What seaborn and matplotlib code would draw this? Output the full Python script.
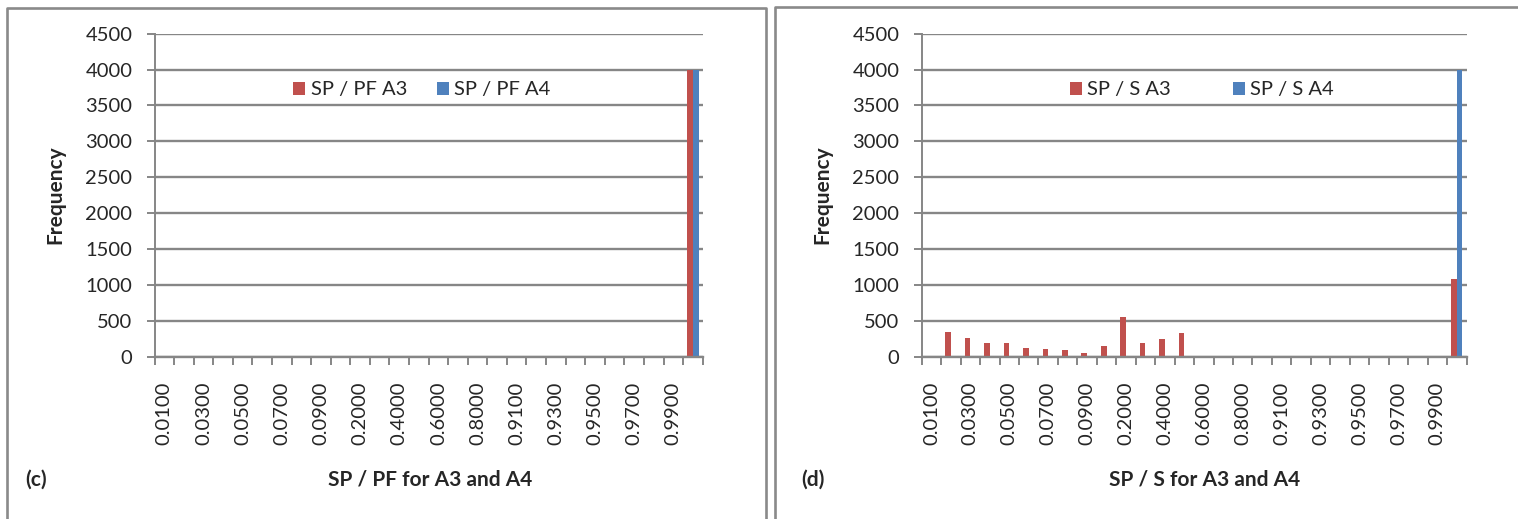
import matplotlib
matplotlib.use("Agg")
import matplotlib.pyplot as plt
from matplotlib.lines import Line2D
import pandas as pd
import seaborn as sns

# Histogram bins (upper bounds) shared by both panels
bins = [0.01, 0.02, 0.03, 0.04, 0.05, 0.06, 0.07, 0.08, 0.09,
        0.1, 0.2, 0.3, 0.4, 0.5, 0.6, 0.7, 0.8, 0.9,
        0.91, 0.92, 0.93, 0.94, 0.95, 0.96, 0.97, 0.98, 0.99, 1.0]
bin_labels = ["0.0100", "0.0200", "0.0300", "0.0400", "0.0500", "0.0600", "0.0700",
              "0.0800", "0.0900", "0.1000", "0.2000", "0.3000", "0.4000", "0.5000",
              "0.6000", "0.7000", "0.8000", "0.9000", "0.9100", "0.9200", "0.9300",
              "0.9400", "0.9500", "0.9600", "0.9700", "0.9800", "0.9900", "1.0000"]

# Panel (c): SP / PF frequencies
sp_pf_a3 = [0, 0, 0, 0, 0, 0, 0, 0, 0, 0, 0, 0, 0, 0,
            0, 0, 0, 0, 0, 0, 0, 0, 0, 0, 0, 0, 0, 4000]
sp_pf_a4 = [0, 0, 0, 0, 0, 0, 0, 0, 0, 0, 0, 0, 0, 0,
            0, 0, 0, 0, 0, 0, 0, 0, 0, 0, 0, 0, 0, 4000]

# Panel (d): SP / S frequencies
sp_s_a3 = [5, 342, 262, 187, 192, 122, 103, 94, 52, 146, 552, 196, 243, 332,
           2, 6, 0, 0, 0, 0, 0, 0, 0, 0, 0, 0, 0, 1088]
sp_s_a4 = [0, 0, 0, 0, 0, 0, 0, 0, 0, 0, 0, 0, 0, 0,
           0, 0, 0, 0, 0, 0, 0, 0, 0, 0, 0, 0, 0, 4000]

y_ticks = [0, 500, 1000, 1500, 2000, 2500, 3000, 3500, 4000, 4500]

RED = "#C0504D"
BLUE = "#4F81BD"
GRID = "#868686"
FRAME = "#8A8A8A"

sns.set_style("white")
plt.rcParams["font.family"] = ["Lato", "DejaVu Sans"]

W, H = 1518, 519
fig = plt.figure(figsize=(W / 100, H / 100), dpi=100)


def px_rect(x0, x1, y_top, y_bot):
    return [x0 / W, 1 - y_bot / H, (x1 - x0) / W, (y_bot - y_top) / H]


def draw_panel(ax, a3, a4, name3, name4, legend_center, colspacing):
    df = pd.DataFrame({
        "bin": bin_labels * 2,
        "freq": a3 + a4,
        "series": [name3] * len(a3) + [name4] * len(a4),
    })
    sns.barplot(data=df, x="bin", y="freq", hue="series", order=bin_labels,
                hue_order=[name3, name4], palette=[RED, BLUE], saturation=1,
                width=0.58, errorbar=None, linewidth=0, ax=ax)
    ax.set_xlim(-0.5, len(bins) - 0.5)
    ax.set_ylim(0, 4500)
    ax.set_yticks(y_ticks)
    ax.set_yticklabels([str(v) for v in y_ticks], fontsize=14.5)
    ax.yaxis.grid(True, color=GRID, linewidth=1.7)
    ax.set_axisbelow(True)
    ax.tick_params(axis="y", length=6, width=1.4, color=GRID, left=True, pad=10)

    # Labels on every other bin, tick marks on bin boundaries
    ax.set_xticks(list(range(0, len(bins), 2)))
    ax.set_xticklabels(bin_labels[::2], rotation=90, fontsize=14.5)
    ax.tick_params(axis="x", which="major", length=0, pad=18)
    ax.set_xticks([i - 0.5 for i in range(len(bins) + 1)], minor=True)
    ax.tick_params(axis="x", which="minor", length=6, width=1.4, color=GRID,
                   bottom=True)
    ax.set_xlabel("")
    ax.set_ylabel("")

    for side in ["top", "right"]:
        ax.spines[side].set_visible(False)
    ax.spines["left"].set_color(GRID)
    ax.spines["left"].set_linewidth(1.4)
    ax.spines["bottom"].set_color(GRID)
    ax.spines["bottom"].set_linewidth(1.7)

    handles, labels = ax.get_legend_handles_labels()
    ax.legend(handles, labels, loc="center",
              bbox_to_anchor=(legend_center[0] / W, 1 - legend_center[1] / H),
              bbox_transform=fig.transFigure, ncol=2, frameon=False,
              fontsize=14.5, handlelength=0.6, handleheight=0.65,
              handletextpad=0.25, columnspacing=colspacing)


ax_c = fig.add_axes(px_rect(154.5, 702.7, 33.7, 356.7))
draw_panel(ax_c, sp_pf_a3, sp_pf_a4, "SP / PF A3", "SP / PF A4", (422, 90), 1.5)

ax_d = fig.add_axes(px_rect(921.7, 1466.5, 33.7, 356.7))
draw_panel(ax_d, sp_s_a3, sp_s_a4, "SP / S A3", "SP / S A4", (1202, 90), 3.1)

# Axis titles and panel tags
for x_freq, x_tag, tag, x_title, title in [
        (55, 36, "(c)", 430, "SP / PF for A3 and A4"),
        (822, 813, "(d)", 1205, "SP / S for A3 and A4")]:
    fig.text(x_freq / W, 1 - 195 / H, "Frequency", rotation=90, ha="center",
             va="center", fontsize=15, fontweight="bold")
    fig.text(x_tag / W, 1 - 480 / H, tag, ha="center", va="center",
             fontsize=15, fontweight="bold")
    fig.text(x_title / W, 1 - 480 / H, title, ha="center", va="center",
             fontsize=15, fontweight="bold")


# Chart-area borders
def frame_line(xs, ys):
    fig.add_artist(Line2D([x / W for x in xs], [1 - y / H for y in ys],
                          transform=fig.transFigure, color=FRAME, linewidth=1.9,
                          solid_capstyle="projecting"))


frame_line([6.5, 6.5, 766, 766], [530, 8, 8, 530])
frame_line([775, 775, 1530], [530, 7, 7])

fig.savefig("out.png", dpi=100, facecolor="white")
